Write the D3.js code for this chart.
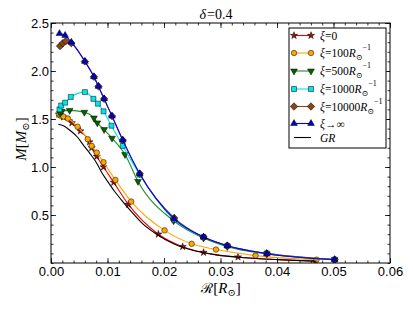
<!DOCTYPE html>
<html>
<head>
<meta charset="utf-8">
<script src="https://cdn.jsdelivr.net/npm/d3@7"></script>
<style>
body { margin: 0; background: #fff; }
svg text { font-family: "Liberation Sans", Arial, sans-serif; }
.serif { font-family: "Liberation Serif", "DejaVu Serif", serif; }
</style>
</head>
<body>
<div id="c"></div>
<script>
"use strict";

// values: radius R [R_sun], mass M [M_sun]
const xi0R = [0.0014, 0.0022, 0.0037, 0.0052, 0.0068, 0.0072, 0.0081, 0.0093, 0.0111, 0.0137, 0.0190, 0.0233, 0.0270, 0.0331, 0.0468]
const xi0M = [1.55, 1.52, 1.46, 1.375, 1.26, 1.20, 1.11, 1.00, 0.84, 0.61, 0.30, 0.17, 0.11, 0.062, 0.021]

const xi100R = [0.0014, 0.0017, 0.0022, 0.0030, 0.0047, 0.0065, 0.0072, 0.0081, 0.0093, 0.0114, 0.0142, 0.0201, 0.0249, 0.0292, 0.0362, 0.0470]
const xi100M = [1.545, 1.535, 1.525, 1.505, 1.42, 1.29, 1.22, 1.15, 1.05, 0.865, 0.64, 0.34, 0.20, 0.14, 0.077, 0.035]

const xi500R = [0.0016, 0.0019, 0.0033, 0.0059, 0.0076, 0.0082, 0.0094, 0.0108, 0.0131, 0.0154, 0.0217, 0.0270, 0.0312, 0.0382, 0.0502]
const xi500M = [1.56, 1.58, 1.59, 1.57, 1.51, 1.46, 1.39, 1.30, 1.13, 0.85, 0.44, 0.26, 0.17, 0.095, 0.035]

const xi1000R = [0.0015, 0.0018, 0.0025, 0.0035, 0.0060, 0.0075, 0.0083, 0.0093, 0.0107, 0.0127, 0.0157, 0.0218, 0.0270, 0.0312, 0.0382, 0.0502]
const xi1000M = [1.60, 1.64, 1.67, 1.73, 1.78, 1.71, 1.66, 1.58, 1.43, 1.22, 0.92, 0.45, 0.27, 0.18, 0.10, 0.035]

const xi10000R = [0.0016, 0.0021, 0.0026, 0.0036, 0.0060, 0.0076, 0.0084, 0.0094, 0.0108, 0.0127, 0.0157, 0.0218, 0.0270, 0.0312, 0.0382, 0.0502]
const xi10000M = [2.26, 2.29, 2.31, 2.29, 2.10, 1.94, 1.84, 1.71, 1.53, 1.28, 0.93, 0.47, 0.27, 0.18, 0.10, 0.035]

const xiInfR = [0.0015, 0.0025, 0.0036, 0.0060, 0.0076, 0.0084, 0.0094, 0.0108, 0.0127, 0.0157, 0.0218, 0.0270, 0.0312, 0.0382, 0.0502]
const xiInfM = [2.39, 2.37, 2.30, 2.10, 1.94, 1.84, 1.71, 1.53, 1.28, 0.93, 0.46, 0.27, 0.18, 0.097, 0.035]

const grR = [0.0013, 0.0022, 0.0034, 0.0047, 0.0057, 0.0069, 0.0081, 0.0090, 0.0099, 0.0112, 0.0127, 0.0140, 0.0162, 0.0187, 0.0217, 0.0252, 0.0292, 0.0342, 0.0402, 0.0470]
const grM = [1.445, 1.43, 1.38, 1.31, 1.23, 1.14, 1.04, 0.94, 0.86, 0.75, 0.64, 0.55, 0.41, 0.30, 0.20, 0.13, 0.085, 0.055, 0.035, 0.018]

const xTicks = [0, 0.01, 0.02, 0.03, 0.04, 0.05, 0.06]
const xTickLabels = ["0.00", "0.01", "0.02", "0.03", "0.04", "0.05", "0.06"]
const yTicks = [0.5, 1.0, 1.5, 2.0, 2.5]
const yTickLabels = ["0.5", "1.0", "1.5", "2.0", "2.5"]

// legend text pieces: [text, style]
const legendLabels = [
    [["ξ", "i"], ["=0", ""]],
    [["ξ", "i"], ["=100", ""], ["R", "i"], ["⊙", "sub"], ["−1", "sup"]],
    [["ξ", "i"], ["=500", ""], ["R", "i"], ["⊙", "sub"], ["−1", "sup"]],
    [["ξ", "i"], ["=1000", ""], ["R", "i"], ["⊙", "sub"], ["−1", "sup"]],
    [["ξ", "i"], ["=10000", ""], ["R", "i"], ["⊙", "sub"], ["−1", "sup"]],
    [["ξ", "i"], ["→∞", ""]],
    [["GR", "i"]],
]

const series = [
    { R: xi0R, M: xi0M, line: "#ff0000", fill: "#a01010", sym: "star" },
    { R: xi100R, M: xi100M, line: "#ffa500", fill: "#ffa500", sym: "circle" },
    { R: xi500R, M: xi500M, line: "#228b22", fill: "#006400", sym: "tridown" },
    { R: xi1000R, M: xi1000M, line: "#00e5ee", fill: "#00e5ee", sym: "square" },
    { R: xi10000R, M: xi10000M, line: "#8b4513", fill: "#8b4513", sym: "diamond" },
    { R: xiInfR, M: xiInfM, line: "#0000ff", fill: "#0000cd", sym: "triup" },
    { R: grR, M: grM, line: "#000000", fill: null, sym: null },
]

const W = 413, H = 310
const plot = { left: 51, right: 390, top: 23, bottom: 263 }

const svg = d3.select("#c").append("svg")
    .attr("width", W).attr("height", H)

const xScale = d3.scaleLinear().domain([0, 0.06]).range([plot.left, plot.right])
const yScale = d3.scaleLinear().domain([0, 2.5]).range([plot.bottom, plot.top])

function marker(sel, sym) {
    let gen
    let rot = 0
    if (sym == "star") gen = d3.symbol(d3.symbolStar, 16)
    else if (sym == "circle") gen = d3.symbol(d3.symbolCircle, 24)
    else if (sym == "tridown") { gen = d3.symbol(d3.symbolTriangle, 20); rot = 180 }
    else if (sym == "triup") gen = d3.symbol(d3.symbolTriangle, 20)
    else if (sym == "square") gen = d3.symbol(d3.symbolSquare, 25)
    else if (sym == "diamond") { gen = d3.symbol(d3.symbolSquare, 28); rot = 45 }
    sel.attr("d", gen).attr("data-rot", rot)
}

// ticks, inward on all four sides
const minorX = d3.range(0, 0.0601, 0.002)
const minorY = d3.range(0, 2.501, 0.1)

const axes = svg.append("g")
axes.append("g")
    .attr("transform", "translate(0," + plot.bottom + ")")
    .call(d3.axisBottom(xScale).tickValues(xTicks).tickFormat((d, i) => xTickLabels[i])
        .tickSizeInner(-5).tickSizeOuter(0).tickPadding(4))
axes.append("g")
    .attr("transform", "translate(0," + plot.bottom + ")")
    .call(d3.axisBottom(xScale).tickValues(minorX).tickFormat("").tickSizeInner(-2.5).tickSizeOuter(0))
axes.append("g")
    .attr("transform", "translate(0," + plot.top + ")")
    .call(d3.axisTop(xScale).tickValues(xTicks).tickFormat("").tickSizeInner(-5).tickSizeOuter(0))
axes.append("g")
    .attr("transform", "translate(0," + plot.top + ")")
    .call(d3.axisTop(xScale).tickValues(minorX).tickFormat("").tickSizeInner(-2.5).tickSizeOuter(0))
axes.append("g")
    .attr("transform", "translate(" + plot.left + ",0)")
    .call(d3.axisLeft(yScale).tickValues(yTicks).tickFormat((d, i) => yTickLabels[i])
        .tickSizeInner(-5).tickSizeOuter(0).tickPadding(2))
axes.append("g")
    .attr("transform", "translate(" + plot.left + ",0)")
    .call(d3.axisLeft(yScale).tickValues(minorY).tickFormat("").tickSizeInner(-2.5).tickSizeOuter(0))
axes.append("g")
    .attr("transform", "translate(" + plot.right + ",0)")
    .call(d3.axisRight(yScale).tickValues(yTicks).tickFormat("").tickSizeInner(-5).tickSizeOuter(0))
axes.append("g")
    .attr("transform", "translate(" + plot.right + ",0)")
    .call(d3.axisRight(yScale).tickValues(minorY).tickFormat("").tickSizeInner(-2.5).tickSizeOuter(0))
axes.selectAll(".domain").remove()
axes.selectAll("line").attr("stroke", "#000").attr("stroke-width", 0.8)
axes.selectAll("text").attr("font-size", 13).attr("fill", "#000")
    .style("font-family", "'Liberation Sans', Arial, sans-serif")

// curves
svg.append("clipPath").attr("id", "clip").append("rect")
    .attr("x", plot.left).attr("y", plot.top)
    .attr("width", plot.right - plot.left).attr("height", plot.bottom - plot.top)

const graphLayer = svg.append("g").attr("clip-path", "url(#clip)")
const line = d3.line()
    .x(d => xScale(d[0]))
    .y(d => yScale(d[1]))
    .curve(d3.curveMonotoneX)

series.forEach(s => {
    const pts = s.R.map((r, i) => [r, s.M[i]])
    const g = graphLayer.append("g")
    g.append("path")
        .datum(pts)
        .attr("fill", "none")
        .attr("stroke", s.line)
        .attr("stroke-width", 1.1)
        .attr("d", line)
    if (s.sym) {
        g.selectAll("path.mk")
            .data(pts)
            .enter()
            .append("path")
            .attr("class", "mk")
            .call(marker, s.sym)
            .attr("transform", function(d) {
                return "translate(" + xScale(d[0]) + "," + yScale(d[1]) + ") rotate(" + this.getAttribute("data-rot") + ")"
            })
            .attr("fill", s.fill)
            .attr("stroke", "#000")
            .attr("stroke-width", 0.5)
    }
})

// frame
svg.append("rect")
    .attr("x", plot.left).attr("y", plot.top)
    .attr("width", plot.right - plot.left).attr("height", plot.bottom - plot.top)
    .attr("fill", "none").attr("stroke", "#000").attr("stroke-width", 1)

// title and axis labels
const title = svg.append("text").attr("class", "serif")
    .attr("x", 216).attr("y", 19).attr("text-anchor", "middle").attr("font-size", 14)
title.append("tspan").attr("font-style", "italic").text("δ")
title.append("tspan").attr("dx", 1).text("=0.4")

const xLabel = svg.append("text").attr("class", "serif")
    .attr("x", 221).attr("y", 293).attr("text-anchor", "middle").attr("font-size", 15)
xLabel.append("tspan").style("font-family", "'DejaVu Serif', serif").attr("font-size", 14).text("ℛ")
xLabel.append("tspan").text("[")
xLabel.append("tspan").attr("font-style", "italic").text("R")
xLabel.append("tspan").attr("font-size", 10).attr("dy", 3).text("⊙")
xLabel.append("tspan").attr("dy", -3).text("]")

const yLabel = svg.append("text").attr("class", "serif")
    .attr("transform", "translate(26,139) rotate(-90)")
    .attr("text-anchor", "middle").attr("font-size", 15)
yLabel.append("tspan").attr("font-style", "italic").text("M")
yLabel.append("tspan").text("[")
yLabel.append("tspan").attr("font-style", "italic").text("M")
yLabel.append("tspan").attr("font-size", 10).attr("dy", 3).text("⊙")
yLabel.append("tspan").attr("dy", -3).text("]")

// legend
const legend = svg.append("g")
legend.append("rect")
    .attr("x", 289).attr("y", 28).attr("width", 97).attr("height", 120)
    .attr("fill", "#fff").attr("stroke", "#000").attr("stroke-width", 1)

const legendY = [35.5, 53, 71, 89, 106.5, 123.5, 137.5]
series.forEach((s, i) => {
    const y = legendY[i]
    const g = legend.append("g")
    g.append("line")
        .attr("x1", 294).attr("x2", 311).attr("y1", y).attr("y2", y)
        .attr("stroke", s.line).attr("stroke-width", 1.1)
    if (s.sym) {
        [294, 311].forEach(x => {
            g.append("path")
                .call(marker, s.sym)
                .attr("transform", function() {
                    return "translate(" + x + "," + y + ") rotate(" + this.getAttribute("data-rot") + ")"
                })
                .attr("fill", s.fill).attr("stroke", "#000").attr("stroke-width", 0.5)
        })
    }
    const t = g.append("text").attr("class", "serif")
        .attr("x", 320).attr("y", y + 4).attr("font-size", 11.5)
    let shift = 0
    legendLabels[i].forEach(p => {
        const ts = t.append("tspan").text(p[0])
        if (p[1] == "i") ts.attr("font-style", "italic")
        let target = 0
        if (p[1] == "sub") { target = 3; ts.attr("font-size", 8) }
        if (p[1] == "sup") { target = -7; ts.attr("font-size", 8) }
        if (target != shift) { ts.attr("dy", target - shift); shift = target }
    })
})
</script>
</body>
</html>
